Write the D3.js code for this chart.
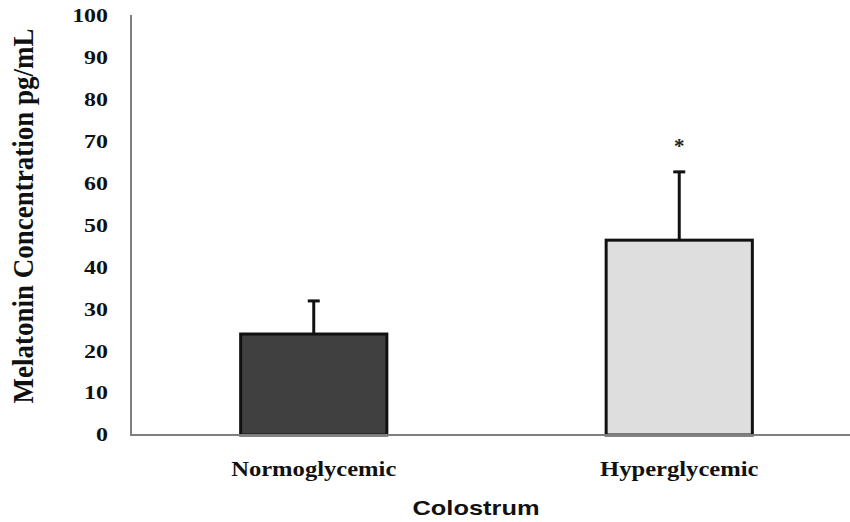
<!DOCTYPE html>
<html>
<head>
<meta charset="utf-8">
<script src="https://cdn.jsdelivr.net/npm/d3@7"></script>
<style>
  body { margin: 0; background: #fff; }
  svg { display: block; }
</style>
</head>
<body>
<svg id="chart" width="850" height="522"></svg>
<script>
// ---- data ----
const categories = ["Normoglycemic", "Hyperglycemic"];
const means = [24.1, 46.5];
const errors = [7.9, 16.3];
const significance = ["", "*"];
const yTicks = [0, 10, 20, 30, 40, 50, 60, 70, 80, 90, 100];
const yTitle = "Melatonin Concentration pg/mL";
const xTitle = "Colostrum";

// ---- style ----
const fills = ["#404040", "#dedede"];
const serif = "'Liberation Serif', 'Times New Roman', serif";
const sans = "'Liberation Sans', Arial, sans-serif";

const svg = d3.select("#chart");
const x0 = 131, x1 = 862, yTop = 16, yBot = 435;

const x = d3.scaleBand().domain(categories).range([x0, x1])
  .paddingInner(0.6).paddingOuter(0.3);
const y = d3.scaleLinear().domain([0, 100]).range([yBot, yTop]);

const data = categories.map((c, i) => ({ c, m: means[i], e: errors[i], s: significance[i], f: fills[i] }));

// bars
svg.selectAll("rect.bar").data(data).enter().append("rect")
  .attr("class", "bar")
  .attr("x", d => x(d.c))
  .attr("y", d => y(d.m))
  .attr("width", x.bandwidth())
  .attr("height", d => y(0) - y(d.m))
  .attr("fill", d => d.f)
  .attr("stroke", "#111")
  .attr("stroke-width", 3);

// error bars (upper only)
const capW = 12;
svg.selectAll("line.stem").data(data).enter().append("line")
  .attr("x1", d => x(d.c) + x.bandwidth() / 2)
  .attr("x2", d => x(d.c) + x.bandwidth() / 2)
  .attr("y1", d => y(d.m))
  .attr("y2", d => y(d.m + d.e))
  .attr("stroke", "#111").attr("stroke-width", 3);
svg.selectAll("line.cap").data(data).enter().append("line")
  .attr("x1", d => x(d.c) + x.bandwidth() / 2 - capW / 2)
  .attr("x2", d => x(d.c) + x.bandwidth() / 2 + capW / 2)
  .attr("y1", d => y(d.m + d.e))
  .attr("y2", d => y(d.m + d.e))
  .attr("stroke", "#111").attr("stroke-width", 3);

// significance marks
svg.selectAll("text.sig").data(data.filter(d => d.s)).enter().append("text")
  .attr("transform", d => `translate(${x(d.c) + x.bandwidth() / 2},${y(d.m + d.e) - 30})`)
  .attr("text-anchor", "middle")
  .attr("font-family", serif).attr("font-weight", "bold").attr("font-size", 21)
  .attr("fill", "#222")
  .attr("dy", "0.55em")
  .text(d => d.s);

// axes lines (gray)
const yAxis = d3.axisLeft(y).tickValues(yTicks).tickSize(0).tickFormat("");
const gy = svg.append("g").attr("transform", `translate(${x0},0)`).call(yAxis);
gy.select(".domain").attr("d", `M0,${yTop - 1}V${yBot}`).attr("stroke", "#7f7f7f").attr("stroke-width", 2);

const xAxis = d3.axisBottom(x).tickSize(0).tickFormat("");
const gx = svg.append("g").attr("transform", `translate(0,${yBot})`).call(xAxis);
gx.select(".domain").attr("d", `M${x0 - 1},0H850`).attr("stroke", "#7f7f7f").attr("stroke-width", 2);

// y tick labels
svg.selectAll("text.ytick").data(yTicks).enter().append("text")
  .attr("transform", d => `translate(108,${y(d)}) scale(1.33,1)`)
  .attr("text-anchor", "end")
  .attr("dy", "0.35em")
  .attr("font-family", serif).attr("font-weight", "bold").attr("font-size", 18)
  .attr("fill", "#111")
  .text(d => d);

// category labels
svg.selectAll("text.xcat").data(categories).enter().append("text")
  .attr("transform", d => `translate(${x(d) + x.bandwidth() / 2},476) scale(1.23,1)`)
  .attr("text-anchor", "middle")
  .attr("font-family", serif).attr("font-weight", "bold").attr("font-size", 20)
  .attr("fill", "#111")
  .text(d => d);

// x title
svg.append("text")
  .attr("transform", "translate(476,515) scale(1.21,1)")
  .attr("text-anchor", "middle")
  .attr("font-family", sans).attr("font-weight", "bold").attr("font-size", 21)
  .attr("fill", "#111")
  .text(xTitle);

// y title
svg.append("text")
  .attr("transform", "translate(33,216) scale(1.12,1) rotate(-90)")
  .attr("text-anchor", "middle")
  .attr("font-family", serif).attr("font-weight", "bold").attr("font-size", 27)
  .attr("fill", "#111")
  .text(yTitle);
</script>
</body>
</html>
